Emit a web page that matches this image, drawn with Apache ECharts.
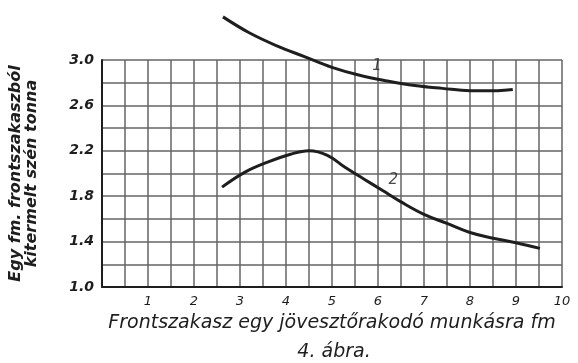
<!DOCTYPE html>
<html lang="hu">
<head>
    <meta charset="UTF-8">
    <title>4. ábra</title>
    <style>
        html, body { margin: 0; padding: 0; background: #fff; }
    </style>
</head>
<body>
<div class="main" style="width: 578px;height: 363px;"></div>
<script src="https://cdn.jsdelivr.net/npm/echarts@6/dist/echarts.min.js"></script>
<script>
    // curve 1 and curve 2 (x in fm, y in tonna)
    var curve1 = [[2.63, 3.38], [3.2, 3.24], [3.8, 3.125], [4.4, 3.03], [5.0, 2.935], [5.6, 2.865],
        [6.2, 2.815], [6.8, 2.775], [7.4, 2.75], [8.0, 2.73], [8.6, 2.73], [8.93, 2.74]];
    var curve2 = [[2.61, 1.88], [3.1, 2.01], [3.6, 2.10], [4.1, 2.17], [4.5, 2.20], [4.9, 2.16],
        [5.3, 2.05], [5.7, 1.95], [6.1, 1.85], [6.5, 1.75], [7.0, 1.64], [7.5, 1.56],
        [8.0, 1.48], [8.5, 1.43], [9.0, 1.39], [9.52, 1.34]];
    var curveNames = ['1', '2'];
    var curveLabelPos = [[5.98, 2.95], [6.33, 1.94]];

    var xTickLabels = ['', '1', '2', '3', '4', '5', '6', '7', '8', '9', '10'];
    var yTickLabels = {'1': '1.0', '1.4': '1.4', '1.8': '1.8', '2.2': '2.2', '2.6': '2.6', '3': '3.0'};

    var main = document.querySelector(".main");
    var mainEcharts = echarts.init(main);

    var ink = '#1e1e1e';
    var gridInk = '#656565';
    var font = 'DejaVu Sans';

    var option = {
        backgroundColor: '#fff',
        animation: false,
        title: {
            text: '4. ábra.',
            left: 329,
            textAlign: 'center',
            top: 338,
            textStyle: {fontFamily: font, fontStyle: 'italic', fontWeight: 'normal', fontSize: 19, color: ink}
        },
        grid: {left: 102, top: 60, right: 16, bottom: 76},
        xAxis: {
            type: 'value',
            min: 0, max: 10, interval: 1,
            name: 'Frontszakasz egy jövesztőrakodó munkásra fm',
            nameLocation: 'middle',
            nameGap: 27,
            nameTextStyle: {fontFamily: font, fontStyle: 'italic', fontSize: 19, color: ink},
            axisLine: {lineStyle: {color: ink, width: 2}},
            axisTick: {show: false},
            axisLabel: {
                fontFamily: font, fontStyle: 'italic', fontSize: 13, color: ink, margin: 8,
                formatter: function (v) { return xTickLabels[Math.round(v)]; }
            },
            splitLine: {show: true, lineStyle: {color: gridInk, width: 1.5}},
            minorTick: {show: false, splitNumber: 2},
            minorSplitLine: {show: true, lineStyle: {color: gridInk, width: 1.5}}
        },
        yAxis: {
            type: 'value',
            min: 1.0, max: 3.0, interval: 0.4,
            name: 'Egy fm. frontszakaszból\nkitermelt szén tonna',
            nameLocation: 'middle',
            nameRotate: 90,
            nameGap: 62,
            nameTextStyle: {fontFamily: font, fontStyle: 'italic', fontWeight: 'bold', fontSize: 16, lineHeight: 16, color: ink},
            axisLine: {show: true, lineStyle: {color: ink, width: 2}},
            axisTick: {show: false},
            axisLabel: {
                fontFamily: font, fontStyle: 'italic', fontWeight: 'bold', fontSize: 14, color: ink, margin: 8,
                formatter: function (v) { return yTickLabels[String(Math.round(v * 10) / 10)]; }
            },
            splitLine: {show: true, lineStyle: {color: gridInk, width: 1.5}},
            minorTick: {show: false, splitNumber: 2},
            minorSplitLine: {show: true, lineStyle: {color: gridInk, width: 1.5}}
        },
        series: [
            {
                type: 'line', data: curve1, smooth: 0.4, showSymbol: false, clip: false,
                lineStyle: {color: ink, width: 3}
            },
            {
                type: 'line', data: curve2, smooth: 0.4, showSymbol: false, clip: false,
                lineStyle: {color: ink, width: 3}
            },
            {
                type: 'scatter', symbolSize: 0,
                data: curveLabelPos.map(function (p, i) { return {value: p, name: curveNames[i]}; }),
                label: {
                    show: true, position: 'inside', formatter: '{b}',
                    fontFamily: font, fontStyle: 'italic', fontSize: 15, color: ink
                }
            }
        ]
    };

    mainEcharts.setOption(option);
</script>
</body>
</html>
